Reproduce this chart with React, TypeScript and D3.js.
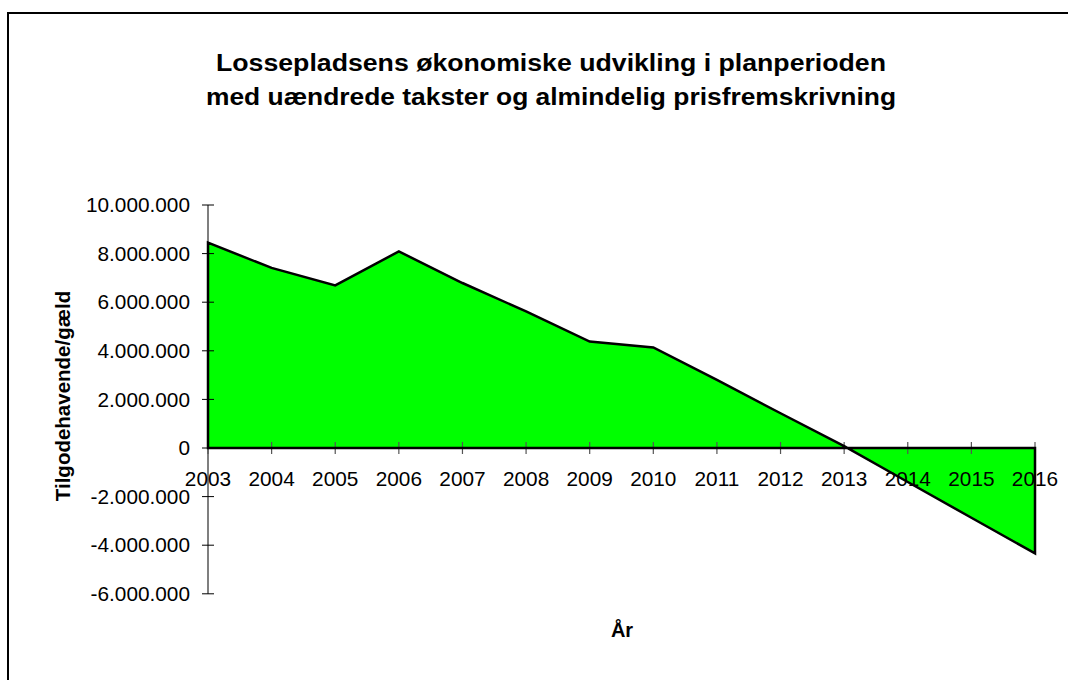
import React from "react";
import * as d3 from "d3";

const years: string[] = ["2003","2004","2005","2006","2007","2008","2009","2010","2011","2012","2013","2014","2015","2016"];
const values: number[] = [8450000, 7410000, 6690000, 8090000, 6790000, 5620000, 4380000, 4140000, 2800000, 1430000, 80000, -1400000, -2870000, -4340000];
const yTicks: number[] = [-6000000, -4000000, -2000000, 0, 2000000, 4000000, 6000000, 8000000, 10000000];
const titleLines: string[] = ["Lossepladsens økonomiske udvikling i planperioden", "med uændrede takster og almindelig prisfremskrivning"];
const yTitle = "Tilgodehavende/gæld";
const xTitle = "År";

const W = 1068, H = 680;
const FONT = "'Liberation Sans', Arial, sans-serif";

export default function App() {
  const x = d3.scalePoint<string>().domain(years).range([208, 1035]);
  const y = d3.scaleLinear().domain([-6000000, 10000000]).range([593.8, 205]);
  const loc = d3.formatLocale({ decimal: ",", thousands: ".", grouping: [3], currency: ["", ""], minus: "-" });
  const fmt = loc.format(",d");
  const pts = years.map((yr, i) => ({ yr, v: values[i] }));
  const area = d3.area<{ yr: string; v: number }>()
    .x(d => x(d.yr) as number)
    .y0(y(0))
    .y1(d => y(d.v));
  const areaD = area(pts) + "Z";
  const x0 = x(years[0]) as number;
  const x1 = x(years[years.length - 1]) as number;
  const titleLens = [670, 690];
  return (
    <svg width={W} height={H} style={{ position: "absolute", left: 0, top: 0, background: "#fff" }} fontFamily={FONT}>
      <rect x={8} y={13} width={W + 20} height={H + 20} fill="#fff" stroke="#000" strokeWidth={2} />
      {titleLines.map((t, i) => (
        <text key={i} x={551} y={71 + i * 34} textAnchor="middle" fontWeight="bold" fontSize={23}
          textLength={titleLens[i]} lengthAdjust="spacingAndGlyphs" fill="#000">{t}</text>
      ))}
      <path d={areaD} fill="#00ff00" stroke="none" />
      <line x1={x0} x2={x0} y1={y(10000000)} y2={y(-6000000)} stroke="#555" strokeWidth={1.5} />
      {yTicks.map(t => (
        <g key={t}>
          <line x1={x0 - 6} x2={x0 + 6} y1={y(t)} y2={y(t)} stroke="#000" strokeWidth={1} />
          <text x={190} y={y(t)} dy="0.35em" textAnchor="end" fontSize={20.8} fill="#000">{fmt(t)}</text>
        </g>
      ))}
      {years.map(yr => (
        <g key={yr}>
          <line x1={x(yr)} x2={x(yr)} y1={y(0) - 6} y2={y(0) + 6} stroke="#555" strokeWidth={1.2} />
          <text x={x(yr)} y={486} textAnchor="middle" fontSize={20.8} fill="#000">{yr}</text>
        </g>
      ))}
      <line x1={x0} x2={x1} y1={y(0)} y2={y(0)} stroke="#000" strokeWidth={1.5} />
      <path d={areaD} fill="none" stroke="#000" strokeWidth={2.5} strokeLinejoin="miter" />
      <text transform={`translate(70,396) rotate(-90)`} textAnchor="middle" fontWeight="bold" fontSize={20.5} fill="#000">{yTitle}</text>
      <text x={622} y={637} textAnchor="middle" fontWeight="bold" fontSize={20} fill="#000">{xTitle}</text>
    </svg>
  );
}
